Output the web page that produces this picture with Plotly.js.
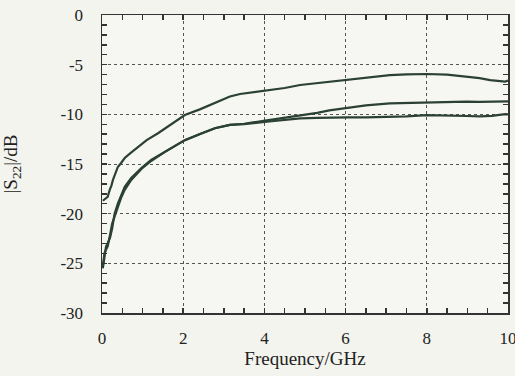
<!DOCTYPE html>
<html>
<head>
<meta charset="utf-8">
<script src="https://cdn.plot.ly/plotly-3.0.1.min.js"></script>
<style>html,body{margin:0;padding:0;background:#f3f4ee;}#chart{width:515px;height:376px;}</style>
</head>
<body>
<div id="chart"></div>
<script>
// Curve A (upper)
const freqA = [0.02,0.08,0.14,0.19,0.23,0.27,0.33,0.39,0.47,0.56,0.7,0.89,1.1,1.38,1.7,2.04,2.41,2.86,3.15,3.4,3.7,4.06,4.5,4.88,5.3,5.7,6.05,6.5,7.09,7.5,8.0,8.5,8.98,9.3,9.56,9.8,9.93,10];
const s22A  = [-18.7,-18.5,-18.3,-17.6,-17.2,-16.6,-16.0,-15.3,-14.9,-14.4,-13.9,-13.3,-12.6,-11.9,-11.0,-10.07,-9.5,-8.7,-8.2,-7.95,-7.8,-7.6,-7.35,-7.05,-6.85,-6.65,-6.48,-6.3,-6.05,-5.98,-5.94,-6.0,-6.2,-6.35,-6.55,-6.65,-6.7,-6.6];
// Curves B and C (lower pair)
const freqBC = [0.02,0.06,0.1,0.14,0.2,0.25,0.31,0.39,0.47,0.56,0.72,0.97,1.21,1.54,2.04,2.4,2.78,3.15,3.5,4.06,4.5,4.88,5.3,5.6,6.05,6.5,7.09,7.5,8.0,8.5,8.98,9.3,9.6,9.93,10];
const s22B = [-25.5,-24.3,-23.3,-23.0,-22.4,-21.5,-20.0,-19.0,-18.1,-17.3,-16.4,-15.4,-14.6,-13.8,-12.6,-12.0,-11.4,-11.07,-10.95,-10.6,-10.35,-10.07,-9.85,-9.6,-9.35,-9.1,-8.9,-8.85,-8.83,-8.8,-8.73,-8.75,-8.7,-8.66,-8.7];
const s22C = [-25.3,-24.0,-23.6,-23.3,-22.1,-21.0,-20.3,-19.3,-18.4,-17.6,-16.6,-15.5,-14.7,-13.8,-12.6,-12.0,-11.4,-11.07,-11.0,-10.75,-10.55,-10.4,-10.35,-10.3,-10.3,-10.3,-10.24,-10.2,-10.07,-10.15,-10.17,-10.2,-10.15,-9.97,-10.0];
// Tick labels
const xTickVals = [0,2,4,6,8,10];
const xTickLabels = ["0","2","4","6","8","10"];
const yTickVals = [0,-5,-10,-15,-20,-25,-30];
const yTickLabels = ["0","-5","-10","-15","-20","-25","-30"];

const lineStyle = {color:'#2b4133', width:2.2};
const traces = [
  {x:freqA, y:s22A, mode:'lines', line:lineStyle, hoverinfo:'skip'},
  {x:freqBC, y:s22B, mode:'lines', line:lineStyle, hoverinfo:'skip'},
  {x:freqBC, y:s22C, mode:'lines', line:lineStyle, hoverinfo:'skip'}
];
const fam = '"Liberation Serif", "DejaVu Serif", serif';
const tickFont = {family:fam, size:17, color:'#222'};
const titleFont = {family:fam, size:19, color:'#222'};
const layout = {
  width:515, height:376,
  margin:{l:102, r:7, t:15, b:63},
  paper_bgcolor:'#f3f4ee', plot_bgcolor:'#f6f7f2',
  showlegend:false,
  font:tickFont,
  xaxis:{
    range:[0,10], tickvals:xTickVals, ticktext:xTickLabels,
    ticks:'inside', ticklen:5, tickcolor:'#333', tickwidth:1.5,
    showline:true, linecolor:'#333', linewidth:1.5, mirror:'ticks',
    showgrid:true, gridcolor:'#555', griddash:'dot', gridwidth:1,
    zeroline:false, ticklabelstandoff:9, ticklabeloverflow:'allow',
    tickfont:tickFont,
    minor:{dtick:0.5, ticks:'inside', ticklen:5, tickcolor:'#333', tickwidth:1.5, showgrid:false},
    title:{text:'Frequency/GHz', font:titleFont, standoff:2}
  },
  yaxis:{
    range:[-30,0], tickvals:yTickVals, ticktext:yTickLabels,
    ticks:'inside', ticklen:5, tickcolor:'#333', tickwidth:1.5,
    showline:true, linecolor:'#333', linewidth:1.5, mirror:'ticks',
    showgrid:true, gridcolor:'#555', griddash:'dot', gridwidth:1,
    zeroline:false, ticklabelstandoff:14, ticklabeloverflow:'allow',
    tickfont:tickFont,
    minor:{dtick:1, ticks:'inside', ticklen:5, tickcolor:'#333', tickwidth:1.5, showgrid:false},
    title:{text:'|S<sub>22</sub>|/dB', font:titleFont, standoff:40}
  }
};
Plotly.newPlot('chart', traces, layout, {staticPlot:true, displayModeBar:false});
</script>
</body>
</html>
